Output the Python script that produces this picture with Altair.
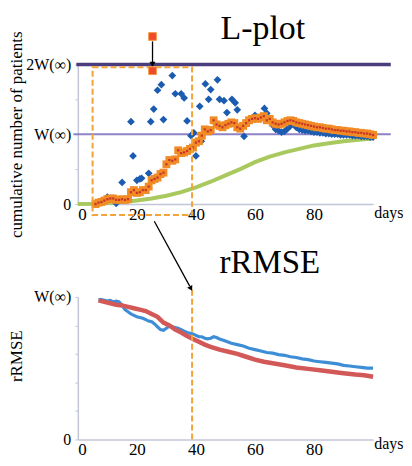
import altair as alt
import pandas as pd

FONT = "Liberation Serif"

# ---------------- top panel (L-plot) ----------------
blue_day = [10, 13, 15, 18, 18.7, 20, 21, 21.6, 24, 24.7, 25.7, 27, 28.3, 29, 32, 33, 35, 36,
            37, 38.3, 39.3, 40, 41.3, 41.8, 43.2, 44.3, 45, 47.3, 48, 49.5, 50.5, 52.2, 53.3,
            54, 56.3, 60, 63.2, 64, 65.7,
            66, 67, 68, 69, 70, 71, 72, 73, 74, 75, 76, 77, 78, 79, 80, 81, 82, 83, 84, 85,
            86, 87, 88, 89, 90, 91, 92, 93, 94, 95, 96, 97, 98, 99, 100]
blue_val = [0.10, 0.01, 0.31, 1.18, 0.69, 0.34, 0.36, 0.37, 0.44, 1.18, 1.36, 1.63, 1.71, 1.21,
            1.84, 1.58, 1.58, 1.52, 1.19, 0.98, 1.02, 0.69, 1.40, 0.90, 1.72, 1.50, 1.64, 1.78,
            1.50, 1.48, 1.31, 1.50, 1.45, 1.35, 0.97, 1.27, 1.37, 1.30, 1.19,
            1.13, 1.07, 1.05, 1.03, 1.04, 1.08, 1.12, 1.14, 1.10, 1.07, 1.06, 1.05, 1.05, 1.04,
            1.03, 1.03, 1.02, 1.02, 1.01, 1.01, 1.00, 1.00, 1.00, 0.99, 0.99, 0.99, 0.99, 0.98,
            0.98, 0.98, 0.97, 0.97, 0.97, 0.96, 0.96]

orange_day = list(range(6, 101))
orange_val = [0.00, 0.02, 0.03, 0.05, 0.07, 0.08, 0.08, 0.06, 0.06, 0.07, 0.06, 0.07, 0.17, 0.20,
              0.16, 0.17, 0.20, 0.20, 0.25, 0.34, 0.36, 0.38, 0.43, 0.45, 0.57, 0.63, 0.62, 0.64,
              0.77, 0.73, 0.74, 0.76, 0.79, 0.81, 0.88, 0.90, 0.98, 1.07, 1.04, 1.06, 1.20, 1.14,
              1.12, 1.10, 1.13, 1.15, 1.17, 1.16, 1.10, 1.08, 1.12, 1.16, 1.20, 1.22, 1.23, 1.22,
              1.24, 1.26, 1.20, 1.22, 1.17, 1.15, 1.14, 1.15, 1.17, 1.19, 1.20, 1.19, 1.17, 1.16,
              1.15, 1.14, 1.13, 1.12, 1.11, 1.10, 1.10, 1.09, 1.08, 1.08, 1.07, 1.06, 1.06, 1.05,
              1.05, 1.04, 1.04, 1.03, 1.03, 1.02, 1.02, 1.01, 1.01, 1.00, 0.99]

green_day = [0, 5, 10, 15, 20, 25, 30, 35, 40, 45, 50, 55, 60, 65, 70, 75, 80, 85, 90, 95, 100]
green_val = [0.0, 0.005, 0.015, 0.03, 0.05, 0.08, 0.12, 0.17, 0.24, 0.32, 0.41, 0.50, 0.60,
             0.68, 0.74, 0.79, 0.84, 0.87, 0.90, 0.92, 0.94]

# ---------------- bottom panel (rRMSE) ----------------
rb_day = [7, 8, 9, 10, 11, 12, 13, 14, 15, 16, 17, 18, 19, 20, 21, 22, 23, 24, 25, 26, 27, 28,
          29, 30, 31, 32, 33, 34, 35, 36, 37, 38, 39, 40, 41, 42, 43, 44, 45, 46, 47, 48, 50,
          52, 54, 56, 58, 60, 62, 64, 66, 68, 70, 72, 74, 76, 78, 80, 82, 84, 86, 88, 90, 92,
          94, 96, 98, 100]
rb_val = [0.98, 0.98, 0.975, 0.97, 0.975, 0.965, 0.97, 0.965, 0.94, 0.91, 0.895, 0.88, 0.87,
          0.86, 0.855, 0.85, 0.84, 0.83, 0.825, 0.81, 0.79, 0.77, 0.765, 0.78, 0.795, 0.79,
          0.785, 0.78, 0.77, 0.76, 0.75, 0.745, 0.74, 0.73, 0.72, 0.72, 0.71, 0.705, 0.71, 0.72,
          0.715, 0.705, 0.69, 0.675, 0.665, 0.655, 0.64, 0.63, 0.62, 0.61, 0.605, 0.595, 0.59,
          0.58, 0.575, 0.565, 0.56, 0.55, 0.545, 0.54, 0.535, 0.53, 0.52, 0.515, 0.51, 0.505,
          0.50, 0.50]
rr_day = [7, 9, 11, 13, 15, 17, 19, 21, 23, 25, 27, 29, 31, 33, 35, 37, 39, 41, 43, 45, 48, 51,
          54, 57, 60, 63, 66, 70, 74, 78, 82, 86, 90, 94, 97, 100]
rr_val = [0.975, 0.965, 0.955, 0.945, 0.94, 0.93, 0.92, 0.91, 0.90, 0.88, 0.86, 0.82, 0.80,
          0.77, 0.75, 0.725, 0.705, 0.685, 0.665, 0.65, 0.63, 0.615, 0.60, 0.58, 0.56, 0.545,
          0.535, 0.52, 0.505, 0.495, 0.485, 0.475, 0.465, 0.455, 0.45, 0.44]

AX = "#c3c6d8"
W = 296
H1 = 140
H2 = 143

def xaxis():
    return alt.Axis(values=[0, 20, 40, 60, 80, 100], title=None,
                    labelExpr="datum.value == 100 ? '' : datum.label",
                    ticks=False, labelPadding=2, labelFont=FONT, labelFontSize=17)

def top_x(field):
    return alt.X(field, type="quantitative", scale=alt.Scale(domain=[0, 100], nice=False),
                 axis=xaxis())

def top_y(field):
    return alt.Y(field, type="quantitative", scale=alt.Scale(domain=[0, 2], nice=False),
                 axis=alt.Axis(values=[0, 0.5, 1, 1.5, 2], title="cumulative number of patients",
                               labelExpr="datum.value == 0 ? '0' : datum.value == 1 ? 'W(∞)' : datum.value == 2 ? '2W(∞)' : ''",
                               tickSize=3, labelPadding=4, titleX=-52, titleBaseline="bottom",
                               titleFontSize=17, titleFontWeight="normal", titleFont=FONT,
                               labelFont=FONT, labelFontSize=16))

def bot_x(field):
    return alt.X(field, type="quantitative", scale=alt.Scale(domain=[0, 100], nice=False),
                 axis=xaxis())

def bot_y(field):
    return alt.Y(field, type="quantitative", scale=alt.Scale(domain=[0, 1], nice=False),
                 axis=alt.Axis(values=[0, 0.2, 0.4, 0.6, 0.8, 1], title="rRMSE",
                               labelExpr="datum.value == 0 ? '0' : datum.value == 1 ? 'W(∞)' : ''",
                               tickSize=3, labelPadding=4, titleX=-52, titleY=59,
                               titleBaseline="bottom", titleFontSize=17,
                               titleFontWeight="normal", titleFont=FONT,
                               labelFont=FONT, labelFontSize=16))

green_df = pd.DataFrame({"d": green_day, "v": green_val})
blue_df = pd.DataFrame({"d": blue_day, "v": blue_val})
orange_df = pd.DataFrame({"d": orange_day, "v": orange_val})
w_df = pd.DataFrame({"v": [1], "x0": [-1.5], "x1": [106]})
w2_df = pd.DataFrame({"v": [2], "x0": [-0.5], "x1": [106]})

green = alt.Chart(green_df).mark_line(color="#a9c95f", strokeWidth=4, clip=False).encode(
    x=top_x("d"), y=top_y("v"))
wline = alt.Chart(w_df).mark_rule(color="#8e82c6", strokeWidth=2, clip=False).encode(
    x=top_x("x0"), x2="x1", y=top_y("v"))
w2line = alt.Chart(w2_df).mark_rule(color="#4b3c7d", strokeWidth=3.5, clip=False).encode(
    x=top_x("x0"), x2="x1", y=top_y("v"))
blue = alt.Chart(blue_df).mark_point(shape="diamond", filled=True, size=60, color="#1c5cb0",
                                     opacity=1, clip=False).encode(x=top_x("d"), y=top_y("v"))
orange = alt.Chart(orange_df).mark_point(shape="square", filled=True, size=62, color="#f18b25",
                                         opacity=1, clip=False).encode(x=top_x("d"), y=top_y("v"))
reddot = alt.Chart(orange_df).mark_point(shape="square", filled=True, size=5, color="#c8362a",
                                         opacity=1, clip=False).encode(x=top_x("d"), y=top_y("v"))

box_df = pd.DataFrame({"x0": [5], "x1": [38.7], "y0": [-0.155], "y1": [1.96]})
box = alt.Chart(box_df).mark_rect(fillOpacity=0, stroke="#f4a23a", strokeWidth=2,
                                  strokeDash=[6, 3], clip=False).encode(
    x=top_x("x0"), x2="x1", y=top_y("y0"), y2="y1")

sq_df = pd.DataFrame({"d": [25.3, 25.3], "v": [2.40, 1.91]})
squares = alt.Chart(sq_df).mark_point(shape="square", filled=True, size=60, color="#ef4a2a",
                                      opacity=1, stroke="#f39a40", strokeWidth=1, clip=False).encode(
    x=top_x("d"), y=top_y("v"))
arr1 = alt.Chart(pd.DataFrame({"d": [25.3], "y0": [2.33], "y1": [2.02]})).mark_rule(
    color="black", strokeWidth=1.3, clip=False).encode(x=top_x("d"), y=top_y("y0"), y2="y1")
head1 = alt.Chart(pd.DataFrame({"d": [25.3], "v": [2.0]})).mark_point(
    shape="triangle-down", filled=True, size=35, color="black", opacity=1, clip=False).encode(
    x=top_x("d"), y=top_y("v"))

ttl_top = alt.Chart(pd.DataFrame({"d": [48.3], "v": [2.36], "t": ["L-plot"]})).mark_text(
    font=FONT, fontSize=34, align="left", baseline="alphabetic", color="black", clip=False).encode(
    x=top_x("d"), y=top_y("v"), text="t:N")
days_top = alt.Chart(pd.DataFrame({"d": [100.4], "v": [-0.2], "t": ["days"]})).mark_text(
    font=FONT, fontSize=16, align="left", baseline="alphabetic", color="black", clip=False).encode(
    x=top_x("d"), y=top_y("v"), text="t:N")

top = alt.layer(green, wline, w2line, blue, orange, reddot, box, arr1, head1, squares,
                ttl_top, days_top).properties(width=W, height=H1)

rb_df = pd.DataFrame({"d": rb_day, "v": rb_val})
rr_df = pd.DataFrame({"d": rr_day, "v": rr_val})
bline = alt.Chart(rb_df).mark_line(color="#3d8ed6", strokeWidth=3.2, clip=False).encode(
    x=bot_x("d"), y=bot_y("v"))
rline = alt.Chart(rr_df).mark_line(color="#d35858", strokeWidth=4.5, clip=False).encode(
    x=bot_x("d"), y=bot_y("v"))
vdash = alt.Chart(pd.DataFrame({"d": [38.7], "y0": [0], "y1": [1.056]})).mark_rule(
    color="#f4a23a", strokeWidth=2, strokeDash=[6, 3], clip=False).encode(
    x=bot_x("d"), y=bot_y("y0"), y2="y1")
arr2 = alt.Chart(pd.DataFrame({"d0": [25.9], "d1": [37.9], "y0": [1.53], "y1": [1.075]})).mark_rule(
    color="black", strokeWidth=1.3, clip=False).encode(
    x=bot_x("d0"), x2="d1", y=bot_y("y0"), y2="y1")
head2 = alt.Chart(pd.DataFrame({"d": [38.3], "v": [1.058]})).mark_point(
    shape="triangle-down", filled=True, size=35, color="black", opacity=1, angle=332, clip=False).encode(
    x=bot_x("d"), y=bot_y("v"))
ttl_bot = alt.Chart(pd.DataFrame({"d": [48.0], "v": [1.17], "t": ["rRMSE"]})).mark_text(
    font=FONT, fontSize=33, align="left", baseline="alphabetic", color="black", clip=False).encode(
    x=bot_x("d"), y=bot_y("v"), text="t:N")
days_bot = alt.Chart(pd.DataFrame({"d": [100.4], "v": [-0.07], "t": ["days"]})).mark_text(
    font=FONT, fontSize=16, align="left", baseline="alphabetic", color="black", clip=False).encode(
    x=bot_x("d"), y=bot_y("v"), text="t:N")

bottom = alt.layer(bline, rline, vdash, arr2, head2, ttl_bot, days_bot).properties(width=W, height=H2)

chart = alt.vconcat(top, bottom, spacing=93, bounds="flush").properties(
    padding={"left": 0, "top": 3, "right": 0, "bottom": 0}
).configure(font=FONT).configure_view(stroke=None).configure_axis(
    domainColor=AX, tickColor=AX, domainWidth=1.5, labelFont=FONT, labelFontSize=16,
    labelColor="black", grid=False, titleColor="black"
)

chart.save("out.html", embed_options={"renderer": "svg", "actions": False})
